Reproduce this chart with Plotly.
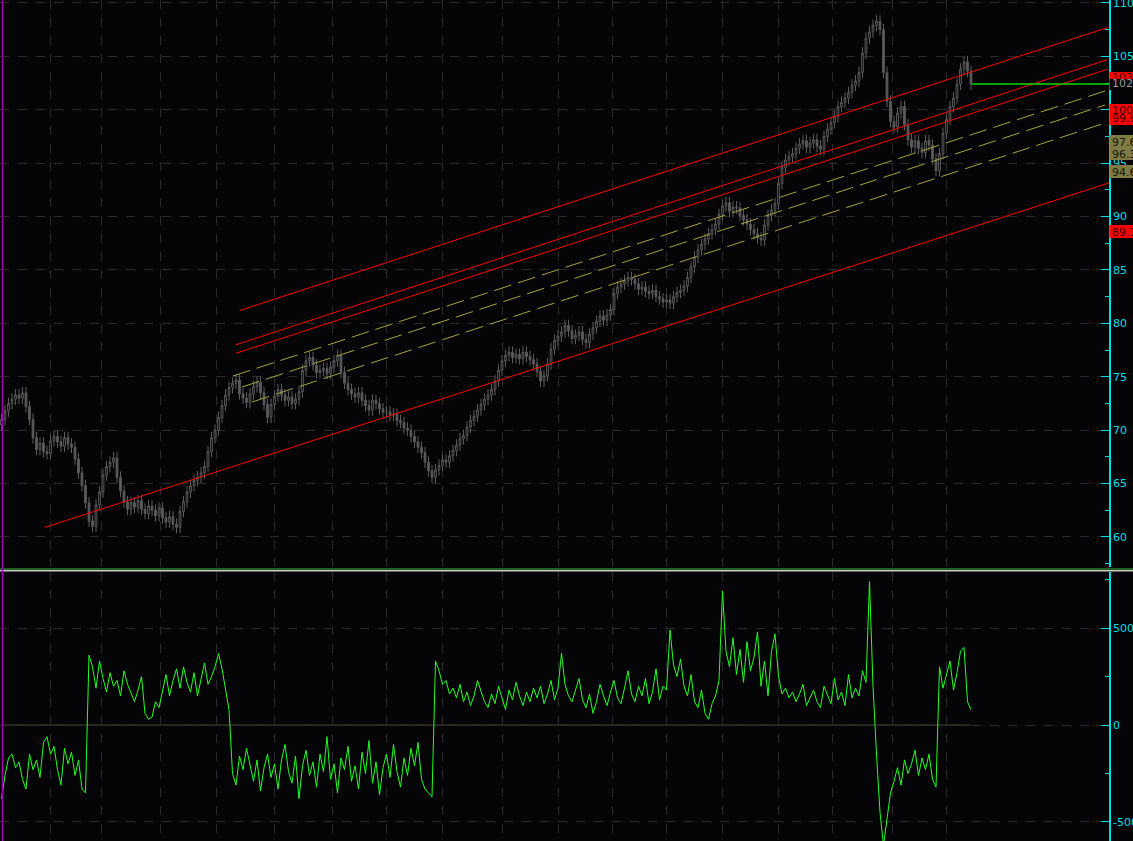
import plotly.graph_objects as go

# ---------------- data ----------------
closes = [
    71.0, 71.8, 72.5, 72.9, 73.3, 73.0, 73.5, 72.2, 71.0, 69.3,
    68.2, 68.8, 68.0, 67.8, 69.0, 69.4, 68.9, 68.5, 69.3, 68.7,
    68.4, 67.3, 66.0, 64.8, 63.2, 61.5, 61.0, 63.0, 64.2, 65.8,
    66.6, 67.0, 67.4, 65.6, 64.3, 63.3, 62.6, 63.2, 62.8, 63.4,
    62.6, 62.2, 62.9, 62.5, 62.0, 62.7, 61.8, 61.4, 61.9, 61.2,
    60.9, 62.4, 63.3, 64.2, 64.8, 65.3, 65.6, 66.0, 66.6, 68.0,
    69.3, 70.0, 71.2, 72.3, 73.3, 74.0, 74.4, 74.7, 73.4, 73.0,
    72.6, 73.4, 74.1, 74.5, 73.5, 72.4, 71.2, 72.4, 73.2, 73.8,
    73.3, 72.8, 73.1, 72.5, 72.9, 73.6, 75.6, 76.5, 76.8, 76.1,
    75.4, 75.6, 75.8, 75.3, 75.9, 76.5, 77.0, 75.4, 74.4, 73.8,
    73.4, 73.1, 73.5, 72.8, 72.3, 71.9, 72.8, 72.5, 72.0, 71.7,
    71.7, 71.4, 71.5, 70.9, 70.7, 70.2, 70.0, 69.4, 68.9, 68.4,
    67.9, 67.0, 66.2, 65.6, 66.3, 66.7, 67.2, 67.0, 67.6, 68.1,
    68.6, 69.2, 69.5, 70.3, 70.9, 71.3, 71.9, 72.4, 72.9, 73.3,
    73.8, 74.6, 75.6, 76.5, 77.0, 77.3, 76.8, 77.1, 76.7, 77.3,
    76.9, 76.6, 76.2, 75.5, 74.6, 75.1, 76.2, 77.6, 78.4, 78.8,
    79.2, 79.8, 79.3, 78.6, 78.9, 79.2, 78.5, 78.2, 79.0, 79.6,
    80.2, 80.7, 80.3, 80.8, 81.3, 82.8, 83.4, 83.7, 84.0, 84.3,
    84.1, 83.7, 83.2, 83.4, 83.0, 82.8, 83.1, 82.5, 82.3, 82.0,
    82.2, 81.9, 82.5, 82.9, 83.1, 83.5, 84.3, 85.3, 86.2, 86.9,
    87.4, 87.9, 88.4, 88.8, 89.3, 90.2, 91.0, 91.3, 90.5, 90.9,
    90.8, 90.1, 89.7, 89.3, 88.8, 88.4, 88.0, 87.8, 89.2, 90.1,
    90.6, 91.2, 93.1, 94.6, 95.3, 95.6, 95.9, 96.4, 96.8, 97.1,
    96.5, 96.9, 97.2, 96.6, 96.3, 97.5, 98.2, 98.8, 99.4, 100.3,
    100.7, 101.1, 101.6, 102.3, 102.7, 103.5, 105.3, 106.7, 107.3, 107.9,
    108.3, 107.5, 103.5, 100.8, 98.9, 98.4, 99.7, 100.3, 98.6, 97.2,
    96.5, 97.1, 96.4, 96.0, 97.1, 96.7, 95.4, 94.3, 95.9, 97.8,
    99.1, 100.3, 101.1, 102.4, 103.8, 104.5, 103.6, 102.4,
]
first_open = 70.5
wick = 0.55

oscillator = [
    -380, -260, -170, -150, -220, -190, -280, -330, -150, -230,
    -180, -270, -90, -60, -150, -110, -230, -310, -120, -200,
    -140, -260, -180, -330, -350,
    360, 300, 190, 330, 240, 170, 270, 200, 230, 150,
    280, 210, 160, 120, 180, 250, 60, 30, 40, 120,
    90, 180, 260, 150, 230, 290, 190, 300, 220, 170,
    270, 150, 240, 320, 210, 250, 300, 370, 290, 180,
    80,
    -250, -310, -160, -230, -120, -200, -290, -180, -340, -220,
    -150, -270, -200, -330, -180, -100, -240, -300, -160, -380,
    -210, -130, -260, -190, -320, -150, -240, -60, -280, -200,
    -350, -170, -230, -110, -290, -210, -330, -140, -250, -80,
    -300, -190, -360, -220, -150, -270, -100, -240, -320, -170,
    -260, -120, -210, -90, -280, -330, -350, -370,
    330, 280, 210, 230, 160, 190, 140, 210, 120, 170,
    100, 150, 230, 180, 120, 90, 160, 110, 200, 140,
    80, 180, 130, 220, 150, 100, 170, 120, 190, 140,
    200, 110, 160, 230, 130, 190, 370, 210, 150, 120,
    180, 240, 130, 90, 160, 60, 120, 210, 150, 100,
    170, 230, 140, 110, 190, 280, 160, 120, 200, 150,
    240, 110, 170, 290, 130, 200, 180, 490, 310, 250,
    340, 200, 150, 260, 120, 90, 180, 60, 30, 110,
    150, 230, 690, 380, 300, 450, 260, 390, 220, 430,
    280, 350, 480, 200, 330, 150, 380, 470, 250, 160,
    190, 140, 170, 120, 160, 210, 100, 140, 180, 120,
    90, 200, 150, 110, 240, 130, 170, 100, 260, 140,
    190, 150, 280, 220, 740,
    200, -150, -450, -620,
    -480, -350, -290, -220, -310, -180, -250, -200, -130, -260,
    -170, -230, -150, -280, -320,
    300, 190, 260, 330, 180, 270, 380, 400, 120, 80,
]

# channel lines: (start index, start value, end index, end value)
red_lines = [
    (68.0, 81.2, 316.0, 107.7),
    (67.0, 78.0, 316.0, 104.7),
    (67.0, 77.2, 316.0, 103.8),
    (12.4, 60.9, 316.4, 93.15),
]
yellow_lines = [
    (66.1, 75.07, 315.3, 101.76),
    (68.7, 74.04, 315.3, 100.45),
    (71.6, 72.64, 315.3, 98.76),
]
last_price = 102.41

# vertical grid positions (bar index)
grid_x = [13.86, 28.43, 45.29, 61.57, 77.86, 94.71, 110.14, 125.86, 143.0,
          159.0, 174.71, 190.14, 205.86, 221.86, 237.57, 254.71, 269.86]

price_ticks = [60, 65, 70, 75, 80, 85, 90, 95, 100, 105, 110]
osc_ticks = [-500, 0, 500]
osc_tick_text = ["-500", "0", "500"]

# right-edge value tags: (text lines, centre pixel y, box top, box bottom, fill, text colour)
tags = [
    (["103.5"], [77], 72, 83, "#ff0000", "#3a0000"),
    (["102.4"], [84], 79, 90, "#050507", "#9a9a9a"),
    (["100.5", "99.6"], [110, 118], 104, 125, "#ff0000", "#3a0000"),
    (["97.6", "96.3"], [142, 154], 135, 160, "#7f7b44", "#141400"),
    (["94.6"], [172], 165, 178, "#7f7b44", "#141400"),
    (["89.1"], [232], 225, 238, "#ff0000", "#3a0000"),
]

# ---------------- figure ----------------
W, H = 1133, 841
PW = 1109  # plot width (axis line position)
BG = "#050507"
CANDLE = "#5c5c5c"
CYAN = "#00dde8"
GRID = "#2a2a2a"

n = len(closes)
idx = list(range(n))
opens = [first_open] + closes[:-1]
highs = [max(o, c) + wick for o, c in zip(opens, closes)]
lows = [min(o, c) - wick for o, c in zip(opens, closes)]

def px_x(px):
    return px / PW

def px_y(py):
    return 1 - py / H

fig = go.Figure()
fig.add_trace(go.Candlestick(
    x=idx, open=opens, high=highs, low=lows, close=closes,
    xaxis="x", yaxis="y",
    increasing=dict(line=dict(color=CANDLE, width=1), fillcolor=BG),
    decreasing=dict(line=dict(color=CANDLE, width=1), fillcolor=CANDLE),
    whiskerwidth=0, showlegend=False, hoverinfo="skip",
))
fig.add_trace(go.Scatter(
    x=idx, y=oscillator, xaxis="x2", yaxis="y2", mode="lines",
    line=dict(color="#22ff22", width=1), showlegend=False, hoverinfo="skip",
))

shapes = []
for x0, y0, x1, y1 in red_lines:
    shapes.append(dict(type="line", xref="x", yref="y", x0=x0, y0=y0, x1=x1, y1=y1,
                       line=dict(color="#ff0000", width=1)))
for x0, y0, x1, y1 in yellow_lines:
    shapes.append(dict(type="line", xref="x", yref="y", x0=x0, y0=y0, x1=x1, y1=y1,
                       line=dict(color="#a8a23c", width=1, dash="18px,7px")))
shapes.append(dict(type="line", xref="x", yref="y", x0=n - 0.7, x1=n + 60,
                   y0=last_price, y1=last_price, line=dict(color="#00dd00", width=1.5)))
shapes.append(dict(type="line", xref="x2", yref="y2", x0=0, x1=n - 1, y0=0, y1=0,
                   line=dict(color="#4a4a34", width=1), layer="below"))
# panel separator
shapes.append(dict(type="line", xref="paper", yref="paper", x0=0, x1=W / PW,
                   y0=px_y(569), y1=px_y(569), line=dict(color="#3fbf3f", width=1)))
shapes.append(dict(type="line", xref="paper", yref="paper", x0=0, x1=W / PW,
                   y0=px_y(570.7), y1=px_y(570.7), line=dict(color="#c8c8c8", width=1.6)))
# purple marker line
shapes.append(dict(type="line", xref="paper", yref="paper", x0=px_x(2.5), x1=px_x(2.5),
                   y0=0, y1=1, line=dict(color="#a000b4", width=1.5)))

annotations = []
for lines, centers, top, bot, fill, tcol in tags:
    shapes.append(dict(type="rect", xref="paper", yref="paper",
                       x0=px_x(PW + 0.5), x1=px_x(W + 5), y0=px_y(bot), y1=px_y(top),
                       fillcolor=fill, line=dict(width=0), layer="above"))
    for t, cy in zip(lines, centers):
        annotations.append(dict(xref="paper", yref="paper", x=px_x(PW + 1), y=px_y(cy),
                                xanchor="left", yanchor="middle", text=t, showarrow=False,
                                font=dict(family="DejaVu Sans", size=11, color=tcol)))

axis_common = dict(
    range=[-0.4286, 316.43], showticklabels=False, ticks="",
    tickmode="array", tickvals=grid_x, showgrid=True, gridcolor=GRID,
    griddash="dash", gridwidth=1, zeroline=False, showline=False, fixedrange=True,
    automargin=False,
)

fig.update_layout(
    width=W, height=H,
    margin=dict(l=0, r=W - PW, t=0, b=0, autoexpand=False),
    paper_bgcolor=BG, plot_bgcolor=BG,
    showlegend=False,
    xaxis=dict(domain=[0, 1], anchor="y", rangeslider=dict(visible=False), **axis_common),
    xaxis2=dict(domain=[0, 1], anchor="y2", matches="x", **axis_common),
    yaxis=dict(
        domain=[1 - 567 / H, 1], range=[57.19, 110.28], side="right", anchor="x",
        tickmode="array", tickvals=price_ticks, automargin=False, fixedrange=True,
        ticklabeloverflow="allow",
        ticks="inside", ticklen=8, tickcolor=CYAN, tickwidth=1,
        minor=dict(ticks="inside", ticklen=4, tickcolor=CYAN, dtick=2.5, tick0=0, showgrid=False),
        showline=True, linecolor=CYAN, linewidth=1.5,
        tickfont=dict(family="DejaVu Sans", size=11, color=CYAN),
        showgrid=True, gridcolor=GRID, griddash="dash", zeroline=False,
    ),
    yaxis2=dict(
        domain=[0, (H - 572) / H], range=[-598, 789], side="right", anchor="x2",
        tickmode="array", tickvals=osc_ticks, ticktext=osc_tick_text,
        automargin=False, fixedrange=True, ticklabeloverflow="allow",
        ticks="inside", ticklen=8, tickcolor=CYAN, tickwidth=1,
        minor=dict(ticks="inside", ticklen=4, tickcolor=CYAN, dtick=250, tick0=0, showgrid=False),
        showline=True, linecolor=CYAN, linewidth=1.5,
        tickfont=dict(family="DejaVu Sans", size=11, color=CYAN),
        showgrid=True, gridcolor=GRID, griddash="dash", zeroline=False,
    ),
    shapes=shapes,
    annotations=annotations,
)

fig.write_html(
    "out.html",
    config={"displayModeBar": False, "responsive": False},
    post_script="document.body.style.margin='0';document.body.style.padding='0';"
                "document.body.style.overflow='hidden';document.body.style.background='#050507';",
)
